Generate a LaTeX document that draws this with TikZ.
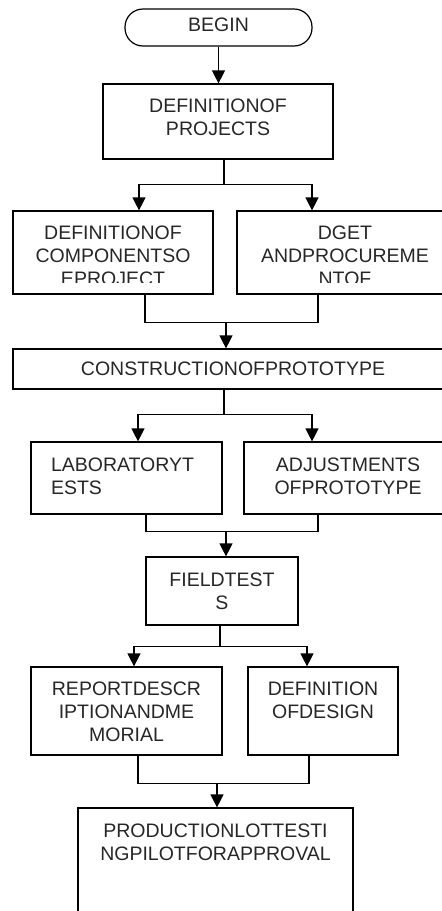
\documentclass[tikz,border=0pt]{standalone}
\usepackage{fontspec}
\setmainfont{Liberation Sans}
\usetikzlibrary{arrows.meta}
\newcommand{\flowfont}{\fontsize{19.5}{23}\selectfont}

\tikzset{
    stepbox/.style 2 args={draw, inner sep=0pt, minimum width=#1, minimum height=#2},
    terminal/.style={draw, rounded corners=18pt, minimum width=187pt, minimum height=37pt,
        inner sep=0pt, font=\flowfont, text=black!85, text depth=6pt},
    boxtext/.style={anchor=north, align=center, inner sep=0pt, font=\flowfont, text=black!85},
    arr/.style={-{Triangle[length=13pt,width=13pt]}},
}

\begin{document}
\begin{tikzpicture}[x=1pt, y=-1pt, line width=1.2pt]
    \useasboundingbox (0,0) rectangle (442,911);
    \clip (0,0) rectangle (442,911);

    \node[terminal] (begin) at (218.5,27.5) {BEGIN};

    \node[stepbox={230pt}{75pt}] (proj) at (218,121.5) {};
    \node[boxtext] (projtxt) at ([yshift=-15pt]proj.north) {DEFINITIONOF\\PROJECTS};

    \node[stepbox={200pt}{83pt}] (comp) at (113,252.5) {};
    \node[stepbox={216pt}{83pt}] (budget) at (345,252.5) {};
    \begin{scope}
        \clip (comp.north west) rectangle ([yshift=12.5pt]budget.south east);
        \node[boxtext] (comptxt) at ([yshift=-15pt]comp.north) {DEFINITIONOF\\COMPONENTSO\\EPROJECT};
        \node[boxtext] (budgettxt) at ([yshift=-15pt]budget.north) {DGET\\ANDPROCUREME\\NTOF};
    \end{scope}

    \node[stepbox={440pt}{40pt}, font=\flowfont, text=black!85] (build) at (233,369) {CONSTRUCTIONOFPROTOTYPE};

    \node[stepbox={191pt}{72pt}] (lab) at (126.5,478) {};
    \node[boxtext, anchor=north west, align=left] (labtxt) at ([xshift=20pt,yshift=-16pt]lab.north west) {LABORATORYT\\ESTS};
    \node[stepbox={208pt}{72pt}] (adjust) at (348,478) {};
    \node[boxtext] (adjusttxt) at ([yshift=-16pt]adjust.north) {ADJUSTMENTS\\OFPROTOTYPE};

    \node[stepbox={152pt}{68pt}] (field) at (222,591) {};
    \node[boxtext] (fieldtxt) at ([yshift=-16pt]field.north) {FIELDTEST\\S};

    \node[stepbox={191pt}{88pt}] (report) at (126.5,711) {};
    \node[boxtext] (reporttxt) at ([yshift=-15pt]report.north) {REPORTDESCR\\IPTIONANDME\\MORIAL};
    \node[stepbox={150pt}{88pt}] (design) at (323,711) {};
    \node[boxtext] (designtxt) at ([yshift=-15pt]design.north) {DEFINITION\\OFDESIGN};

    \node[stepbox={275pt}{132pt}] (pilot) at (215.5,874) {};
    \node[boxtext] (pilottxt) at ([yshift=-16pt]pilot.north) {PRODUCTIONLOTTESTI\\NGPILOTFORAPPROVAL};

    % connectors
    \draw[arr] (begin.south) -- (begin.south |- proj.north);

    \draw ([xshift=6pt]proj.south) -- ++(0,25) coordinate (f1);
    \draw[arr] (f1) -| ([xshift=26pt]comp.north);
    \draw[arr] (f1) -| ([xshift=-33pt]budget.north);

    \draw ([xshift=32pt]comp.south) -- ++(0,28) -| ([xshift=-27pt]budget.south);
    \coordinate (m1) at (226,322);
    \draw[arr] (m1) -- (m1 |- build.north);

    \draw ([xshift=-9pt]build.south) -- ++(0,25) coordinate (f2);
    \draw[arr] (f2) -| ([xshift=11.5pt]lab.north);
    \draw[arr] (f2) -| ([xshift=-36pt]adjust.north);

    \draw ([xshift=19.5pt]lab.south) -- ++(0,17) -| ([xshift=-30pt]adjust.south);
    \coordinate (m2) at (226,531);
    \draw[arr] (m2) -- (m2 |- field.north);

    \draw ([xshift=-2pt]field.south) -- ++(0,21) coordinate (f3);
    \draw[arr] (f3) -| ([xshift=7.5pt]report.north);
    \draw[arr] (f3) -| ([xshift=-16pt]design.north);

    \draw ([xshift=11.5pt]report.south) -- ++(0,28) -| ([xshift=-14pt]design.south);
    \coordinate (m3) at (217,783);
    \draw[arr] (m3) -- (m3 |- pilot.north);
\end{tikzpicture}
\end{document}
